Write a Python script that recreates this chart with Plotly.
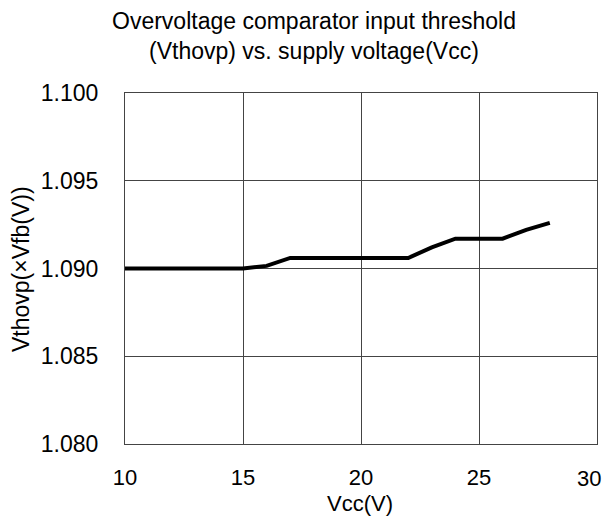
import plotly.graph_objects as go

# Vcc (V) and threshold (x Vfb)
vcc = [10, 11, 12, 13, 14, 15, 16, 17, 18, 19, 20, 21, 22, 23, 24, 25, 26, 27, 28]
vthovp = [1.0900, 1.0900, 1.0900, 1.0900, 1.0900, 1.0900, 1.09015, 1.0906, 1.0906, 1.0906,
          1.0906, 1.0906, 1.0906, 1.0912, 1.0917, 1.0917, 1.0917, 1.0922, 1.0926]

x_ticks = [10, 15, 20, 25, 30]
y_ticks = [1.080, 1.085, 1.090, 1.095, 1.100]

font_name = "Liberation Sans, Arial, sans-serif"
# page body has an 8px margin: place everything 8px up/left of the reference pixels
OFF = 8
W, H = 612 - OFF, 517 - OFF
L, T = 125 - OFF, 93 - OFF
R, B = W - (597 - OFF), H - (444 - OFF)
pw, ph = W - L - R, H - T - B

def px_x(x):
    return (x - OFF - L) / pw

def px_y(y):
    return (H - B - (y - OFF)) / ph

fig = go.Figure()
fig.add_trace(go.Scatter(x=vcc, y=vthovp, mode="lines",
                         line=dict(color="black", width=4), showlegend=False))

#title lines and axis titles as annotations, placed at reference pixels
texts = [("Overvoltage comparator input threshold", 314, 21, 0, 23),
         ("(Vthovp) vs. supply voltage(Vcc)", 314, 51, 0, 23),
         ("Vcc(V)", 360, 503, 0, 22),
         ("Vthovp(×Vfb(V))", 21, 269, -90, 23)]
for txt, xp, yp, ang, fs in texts:
    fig.add_annotation(text=txt, x=px_x(xp), y=px_y(yp), xref="paper", yref="paper",
                       xanchor="center", yanchor="middle", showarrow=False, textangle=ang,
                       font=dict(size=fs, color="black", family=font_name))

# last x tick label sits at the right edge of the page; draw it nudged left so it is not clipped
x_ticktext = [str(v) for v in x_ticks]
x_ticktext[-1] = ""
fig.add_annotation(text=str(x_ticks[-1]), x=x_ticks[-1], xref="x", y=px_y(478), yref="paper",
                   xanchor="right", yanchor="middle", xshift=6, showarrow=False,
                   font=dict(size=22, color="black", family=font_name))

fig.update_layout(
    width=W, height=H,
    margin=dict(l=L, r=R, t=T, b=B),
    plot_bgcolor="white", paper_bgcolor="white",
    font=dict(family=font_name, size=23, color="black"),
)

fig.update_xaxes(range=[10, 30], tickvals=x_ticks, ticktext=x_ticktext,
                 tickfont=dict(size=22), ticklabeloverflow="allow",
                 showgrid=True, gridcolor="#444444", gridwidth=1,
                 showline=True, linecolor="#444444", mirror=True, linewidth=1,
                 zeroline=False, ticks="", ticklabelstandoff=14, automargin=False)
fig.update_yaxes(range=[1.080, 1.100], tickvals=y_ticks, ticktext=["%.3f" % v for v in y_ticks],
                 showgrid=True, gridcolor="#444444", gridwidth=1,
                 showline=True, linecolor="#444444", mirror=True, linewidth=1,
                 zeroline=False, ticks="", ticklabelstandoff=21, automargin=False)

fig.write_html("out.html")
